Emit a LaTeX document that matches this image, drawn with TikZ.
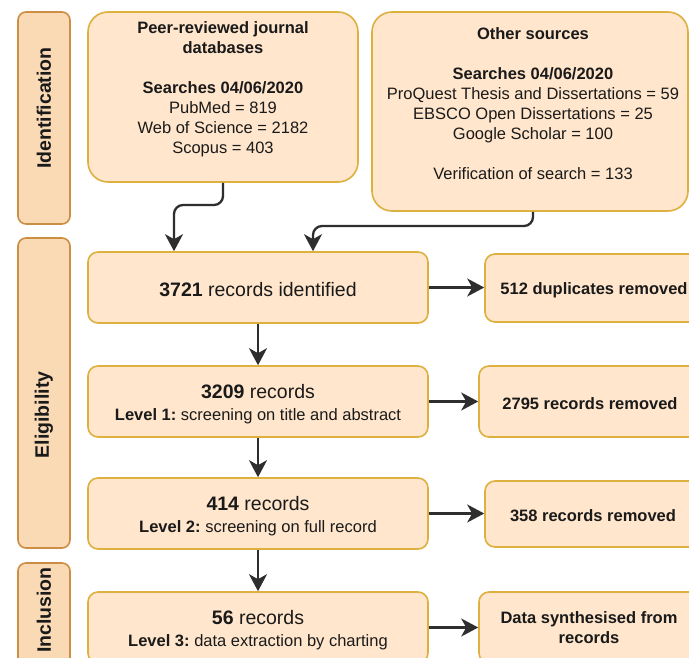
\documentclass[tikz,border=0pt]{standalone}
\usepackage{fontspec}
\setmainfont{Liberation Sans}
\usetikzlibrary{arrows.meta,calc}
\frenchspacing
\definecolor{boxfill}{HTML}{FFE6CC}
\definecolor{boxline}{HTML}{DDB040}
\definecolor{labfill}{HTML}{FAD9B5}
\definecolor{labline}{HTML}{CC8E45}
\definecolor{conn}{HTML}{2E2E2E}
\definecolor{txt}{HTML}{1A1A1A}
\newcommand{\tstrut}[1]{\rule{0pt}{#1}}
\begin{document}
\begin{tikzpicture}[x=1pt,y=-1pt,
  box/.style={draw=boxline,fill=boxfill,line width=1.6pt,rounded corners=10pt,inner sep=0pt,
    align=center,text=txt,font=\fontsize{16.5}{20}\selectfont},
  bigbox/.style={box,rounded corners=20pt},
  lab/.style={draw=labline,fill=labfill,line width=1.6pt,rounded corners=8pt,inner sep=0pt,minimum width=52pt},
  labtext/.style={rotate=90,font=\fontsize{19.5}{22}\selectfont\bfseries,text=txt,inner sep=0pt},
  txtn/.style={align=center,text=txt,font=\fontsize{16.5}{20}\selectfont,inner sep=0pt},
  arr/.style={draw=conn,line width=2.3pt,-{Stealth[length=17pt,width=18pt,inset=5pt]}}
]
\useasboundingbox (0,0) rectangle (689,658);
\fill[white] (0,0) rectangle (689,658);
\clip (0,0) rectangle (689,658);

% phase labels
\node[lab,minimum height=212pt] (idlab) at (44,118) {};
\node[labtext] (idlabT) at (44,108) {Identification};
\node[lab,minimum height=310pt] (eliglab) at (44,393) {};
\node[labtext] (eliglabT) at (44,415) {Eligibility};
\node[lab,minimum height=140pt] (inclab) at (44,633) {};
\node[labtext] (inclabT) at (44,610) {Inclusion};

% sources
\node[bigbox,minimum width=270pt,minimum height=170pt] (peer) at (223,97) {};
\node[txtn] (peerT) at (223,89.5) {\textbf{Peer-reviewed journal}\\\textbf{databases}\\[20pt]
  \textbf{Searches 04/06/2020}\\PubMed = 819\\Web of Science = 2182\\Scopus = 403};
\node[bigbox,minimum width=316pt,minimum height=199pt] (other) at (530,111.5) {};
\node[txtn] (otherT) at (533,103.5) {\textbf{Other sources}\\[20pt]
  \textbf{Searches 04/06/2020}\\ProQuest Thesis and Dissertations = 59\\EBSCO Open Dissertations = 25\\
  Google Scholar = 100\\[20pt]Verification of search = 133};

% main flow
\node[box,minimum width=340pt,minimum height=71pt] (n1) at (258,287.5)
  {{\fontsize{19.5}{23}\selectfont\tstrut{18pt}\textbf{3721} records identified}};
\node[box,minimum width=340pt,minimum height=71pt] (n2) at (258,401.5)
  {{\fontsize{19.5}{23}\selectfont\tstrut{19.5pt}\textbf{3209} records}\\[2pt]\textbf{Level 1:} screening on title and abstract};
\node[box,minimum width=340pt,minimum height=71pt] (n3) at (258,513.5)
  {{\fontsize{19.5}{23}\selectfont\tstrut{19.5pt}\textbf{414} records}\\[2pt]\textbf{Level 2:} screening on full record};
\node[box,minimum width=340pt,minimum height=71pt] (n4) at (258,627.5)
  {{\fontsize{19.5}{23}\selectfont\tstrut{19.5pt}\textbf{56} records}\\[2pt]\textbf{Level 3:} data extraction by charting};

% removed
\node[box,minimum width=218pt,minimum height=68pt] (r1) at (594,288) {\tstrut{16pt}\textbf{512 duplicates removed}};
\node[box,minimum width=222pt,minimum height=71pt] (r2) at (590,401.5) {\tstrut{16pt}\textbf{2795 records removed}};
\node[box,minimum width=216pt,minimum height=66pt] (r3) at (593,514) {\tstrut{16pt}\textbf{358 records removed}};
\node[box,minimum width=220pt,minimum height=71pt] (r4) at (589,627.5) {\textbf{Data synthesised from}\\\textbf{records}};

% connectors
\coordinate (a1) at (174,205);
\coordinate (a2) at (313,226);
\draw[arr,rounded corners=9pt] (peer.south) |- (a1) -- (a1 |- n1.north);
\draw[arr,rounded corners=9pt] ([xshift=3pt]other.south) |- (a2) -- (a2 |- n1.north);
\draw[arr] (n1.south) -- (n2.north);
\draw[arr] (n2.south) -- (n3.north);
\draw[arr] (n3.south) -- (n4.north);
\draw[arr] (n1.east) -- (n1.east -| r1.west);
\draw[arr] (n2.east) -- (n2.east -| r2.west);
\draw[arr] (n3.east) -- (n3.east -| r3.west);
\draw[arr] (n4.east) -- (n4.east -| r4.west);
\end{tikzpicture}
\end{document}
